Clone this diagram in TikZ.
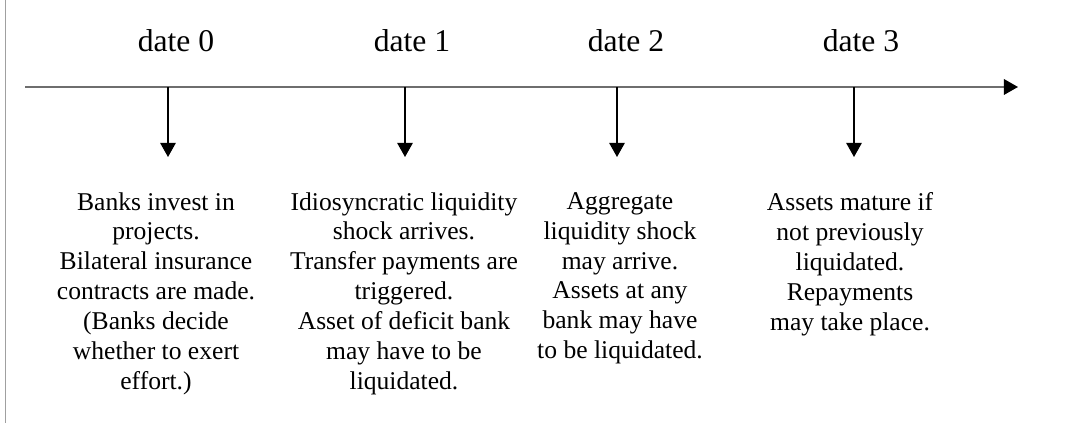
\documentclass[tikz,border=0pt]{standalone}
\usepackage{fontspec}
\setmainfont{Liberation Serif}
\usetikzlibrary{arrows.meta, positioning}
\definecolor{axisgray}{RGB}{110,110,110}
\definecolor{framegray}{RGB}{160,160,160}

\tikzset{
  datelabel/.style={anchor=base, inner sep=0pt, font=\fontsize{22.5}{26}\selectfont},
  event/.style={anchor=north, align=center, inner sep=0pt, font=\fontsize{18.2}{21.3}\selectfont},
  tick/.style={black, line width=1pt, -{Triangle[length=10pt,width=11pt]}},
}

\begin{document}
\begin{tikzpicture}
    \useasboundingbox (0,0) rectangle (26.9,10.575);
    % frame line on the left
    \draw[framegray, line width=0.7pt] (0.125,0) -- (0.125,10.575);
    % time axis
    \coordinate (start) at (0.625,8.4);
    \coordinate (end) at (25.45,8.4);
    \draw[axisgray, line width=1.4pt, -{Triangle[length=10pt,width=11pt,color=black]}] (start) -- (end);
    % dates
    \coordinate (d0) at (4.2,8.4);
    \coordinate (d1) at (10.125,8.4);
    \coordinate (d2) at (15.425,8.4);
    \coordinate (d3) at (21.35,8.4);
    \coordinate (d0 tip) at (4.2,6.65);
    \coordinate (d1 tip) at (10.125,6.65);
    \coordinate (d2 tip) at (15.425,6.65);
    \coordinate (d3 tip) at (21.35,6.65);
    \draw[tick] (d0) -- (d0 tip);
    \draw[tick] (d1) -- (d1 tip);
    \draw[tick] (d2) -- (d2 tip);
    \draw[tick] (d3) -- (d3 tip);
    \node[datelabel] (lab0) at (4.4,9.275) {date 0};
    \node[datelabel] (lab1) at (10.3,9.275) {date 1};
    \node[datelabel] (lab2) at (15.65,9.275) {date 2};
    \node[datelabel] (lab3) at (21.525,9.275) {date 3};
    % what happens at each date
    \node[event] (ev0) at (3.9,5.775) {Banks invest in\\projects.\\Bilateral insurance\\contracts are made.\\(Banks decide\\whether to exert\\effort.)};
    \node[event] (ev1) at (10.1,5.775) {Idiosyncratic liquidity\\shock arrives.\\Transfer payments are\\triggered.\\Asset of deficit bank\\may have to be\\liquidated.};
    \node[event] (ev2) at (15.5,5.775) {Aggregate\\liquidity shock\\may arrive.\\Assets at any\\bank may have\\to be liquidated.};
    \node[event] (ev3) at (21.25,5.775) {Assets mature if\\not previously\\liquidated.\\Repayments\\may take place.};
\end{tikzpicture}
\end{document}
